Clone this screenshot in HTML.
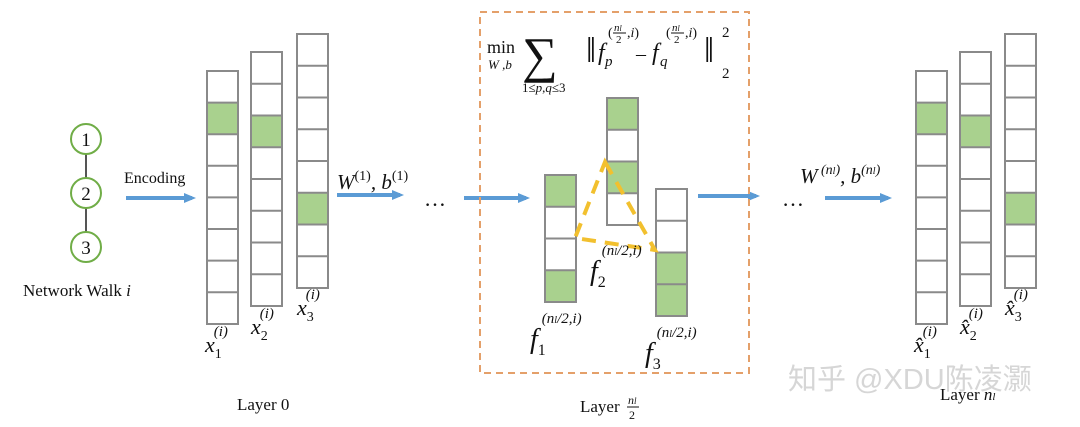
<!DOCTYPE html>
<html><head><meta charset="utf-8"><style>
html,body{margin:0;padding:0;background:#fff;}
svg{display:block;}
text{font-family:"Liberation Serif",serif;fill:#111;}
.it{font-style:italic;}
</style></head><body>
<svg width="1080" height="427" viewBox="0 0 1080 427" xmlns="http://www.w3.org/2000/svg">
<defs>
<marker id="ah" markerWidth="12" markerHeight="12" refX="8" refY="6" orient="auto" markerUnits="userSpaceOnUse">
<path d="M0,1 L12,6 L0,11 Z" fill="#5b9bd5"/></marker>
</defs>
<!-- walk -->
<g stroke="#70ad47" stroke-width="2" fill="#fff">
<line x1="86" y1="154" x2="86" y2="178" stroke="#555"/>
<line x1="86" y1="208" x2="86" y2="232" stroke="#555"/>
<circle cx="86" cy="139" r="15"/><circle cx="86" cy="193" r="15"/><circle cx="86" cy="247" r="15"/>
</g>
<text x="86" y="146" font-size="19" text-anchor="middle">1</text>
<text x="86" y="200" font-size="19" text-anchor="middle">2</text>
<text x="86" y="254" font-size="19" text-anchor="middle">3</text>
<text x="23" y="296" font-size="17">Network Walk <tspan class="it">i</tspan></text>
<text x="124" y="183" font-size="16">Encoding</text>

<g stroke="#5b9bd5" stroke-width="4" marker-end="url(#ah)">
<line x1="126" y1="198" x2="192" y2="198"/>
<line x1="337" y1="195" x2="400" y2="195"/>
<line x1="464" y1="198" x2="526" y2="198"/>
<line x1="698" y1="196" x2="756" y2="196"/>
<line x1="825" y1="198" x2="888" y2="198"/>
</g>
<text x="424" y="206" font-size="22">…</text>
<text x="782" y="206" font-size="22">…</text>

<!-- green fills -->
<g fill="#a9d18e">
<rect x="207" y="102.6" width="31" height="31.6"/>
<rect x="251" y="115.5" width="31" height="31.75"/>
<rect x="297" y="192.75" width="31" height="31.75"/>
<rect x="916" y="102.6" width="31" height="31.6"/>
<rect x="960" y="115.5" width="31" height="31.75"/>
<rect x="1005" y="192.75" width="31" height="31.75"/>
<rect x="545" y="175" width="31" height="31.75"/><rect x="545" y="270.25" width="31" height="31.75"/>
<rect x="607" y="98" width="31" height="31.75"/><rect x="607" y="161.5" width="31" height="31.75"/>
<rect x="656" y="252.5" width="31" height="63.5"/>
</g>
<g stroke="#8a8a8a" stroke-width="2" fill="none">
<rect x="207" y="71" width="31" height="253"/>
<path d="M207 102.6H238M207 134.2H238M207 165.8H238M207 197.4H238M207 229H238M207 260.6H238M207 292.2H238"/>
<rect x="251" y="52" width="31" height="254"/>
<path d="M251 83.75H282M251 115.5H282M251 147.25H282M251 179H282M251 210.75H282M251 242.5H282M251 274.25H282"/>
<rect x="297" y="34" width="31" height="254"/>
<path d="M297 65.75H328M297 97.5H328M297 129.25H328M297 161H328M297 192.75H328M297 224.5H328M297 256.25H328"/>
<rect x="916" y="71" width="31" height="253"/>
<path d="M916 102.6H947M916 134.2H947M916 165.8H947M916 197.4H947M916 229H947M916 260.6H947M916 292.2H947"/>
<rect x="960" y="52" width="31" height="254"/>
<path d="M960 83.75H991M960 115.5H991M960 147.25H991M960 179H991M960 210.75H991M960 242.5H991M960 274.25H991"/>
<rect x="1005" y="34" width="31" height="254"/>
<path d="M1005 65.75H1036M1005 97.5H1036M1005 129.25H1036M1005 161H1036M1005 192.75H1036M1005 224.5H1036M1005 256.25H1036"/>
<rect x="545" y="175" width="31" height="127"/>
<path d="M545 206.75H576M545 238.5H576M545 270.25H576"/>
<rect x="607" y="98" width="31" height="127"/>
<path d="M607 129.75H638M607 161.5H638M607 193.25H638"/>
<rect x="656" y="189" width="31" height="127"/>
<path d="M656 220.75H687M656 252.5H687M656 284.25H687"/>
</g>
<!-- dashed box -->
<rect x="480" y="12" width="269" height="361" fill="none" stroke="#e4a06a" stroke-width="2" stroke-dasharray="7,5"/>
<polygon points="605,162 655,250 575,238" fill="none" stroke="#f2c02e" stroke-width="4" stroke-dasharray="14,9"/>

<!-- formula -->
<text x="487" y="53" font-size="18">min</text>
<text x="488" y="69" font-size="13" class="it">W ,b</text>
<text x="522" y="72" font-size="50">∑</text>
<text x="522" y="92" font-size="13">1≤<tspan class="it">p</tspan>,<tspan class="it">q</tspan>≤3</text>
<text x="586" y="62" font-size="36">‖</text>
<text x="598" y="60" font-size="24" class="it">f</text>
<text x="605" y="66" font-size="15" class="it">p</text>
<text x="608" y="37" font-size="14">(</text>
<text x="614" y="31" font-size="11" class="it">n<tspan font-size="8">l</tspan></text>
<line x1="613" y1="33" x2="626" y2="33" stroke="#111"/>
<text x="616" y="43" font-size="11">2</text>
<text x="627" y="37" font-size="14">,<tspan class="it">i</tspan>)</text>
<text x="636" y="60" font-size="20">–</text>
<text x="652" y="60" font-size="24" class="it">f</text>
<text x="660" y="66" font-size="15" class="it">q</text>
<text x="666" y="37" font-size="14">(</text>
<text x="672" y="31" font-size="11" class="it">n<tspan font-size="8">l</tspan></text>
<line x1="671" y1="33" x2="684" y2="33" stroke="#111"/>
<text x="674" y="43" font-size="11">2</text>
<text x="685" y="37" font-size="14">,<tspan class="it">i</tspan>)</text>
<text x="704" y="62" font-size="36">‖</text>
<text x="722" y="37" font-size="15">2</text>
<text x="722" y="78" font-size="15">2</text>

<!-- labels -->
<text x="337" y="189" font-size="21" class="it">W<tspan font-style="normal" font-size="14" dy="-9">(1)</tspan><tspan dy="9">, b</tspan><tspan font-style="normal" font-size="14" dy="-9">(1)</tspan></text>
<text x="800" y="183" font-size="21" class="it">W<tspan font-size="14" dy="-9"> (n</tspan><tspan font-size="10">l</tspan><tspan font-size="14">)</tspan><tspan dy="9">, b</tspan><tspan font-size="14" dy="-9">(n</tspan><tspan font-size="10">l</tspan><tspan font-size="14">)</tspan></text>

<g font-size="22" class="it">
<text x="205" y="352" class="it">x<tspan font-size="14" font-style="normal" dy="6">1</tspan><tspan font-size="15" dx="-8" dy="-22">(i)</tspan></text>
<text x="251" y="334" class="it">x<tspan font-size="14" font-style="normal" dy="6">2</tspan><tspan font-size="15" dx="-8" dy="-22">(i)</tspan></text>
<text x="297" y="315" class="it">x<tspan font-size="14" font-style="normal" dy="6">3</tspan><tspan font-size="15" dx="-8" dy="-22">(i)</tspan></text>
<text x="914" y="352" class="it">x̂<tspan font-size="14" font-style="normal" dy="6">1</tspan><tspan font-size="15" dx="-8" dy="-22">(i)</tspan></text>
<text x="960" y="334" class="it">x̂<tspan font-size="14" font-style="normal" dy="6">2</tspan><tspan font-size="15" dx="-8" dy="-22">(i)</tspan></text>
<text x="1005" y="315" class="it">x̂<tspan font-size="14" font-style="normal" dy="6">3</tspan><tspan font-size="15" dx="-8" dy="-22">(i)</tspan></text>
</g>
<text x="530" y="348" font-size="28" class="it">f<tspan font-size="16" font-style="normal" dy="7">1</tspan><tspan font-size="15" dx="-4" dy="-32">(<tspan class="it">n</tspan><tspan class="it" font-size="10">l</tspan>/2,<tspan class="it">i</tspan>)</tspan></text>
<text x="590" y="280" font-size="28" class="it">f<tspan font-size="16" font-style="normal" dy="7">2</tspan><tspan font-size="15" dx="-4" dy="-32">(<tspan class="it">n</tspan><tspan class="it" font-size="10">l</tspan>/2,<tspan class="it">i</tspan>)</tspan></text>
<text x="645" y="362" font-size="28" class="it">f<tspan font-size="16" font-style="normal" dy="7">3</tspan><tspan font-size="15" dx="-4" dy="-32">(<tspan class="it">n</tspan><tspan class="it" font-size="10">l</tspan>/2,<tspan class="it">i</tspan>)</tspan></text>

<text x="237" y="410" font-size="17">Layer 0</text>
<text x="580" y="412" font-size="17">Layer</text>
<text x="628" y="404" font-size="12" class="it">n<tspan font-size="9">l</tspan></text>
<line x1="627" y1="407" x2="639" y2="407" stroke="#111" stroke-width="1"/>
<text x="629" y="419" font-size="12">2</text>
<text x="940" y="400" font-size="17">Layer <tspan class="it">n<tspan font-size="11">l</tspan></tspan></text>
<text x="788" y="389" font-size="29" style="font-family:'Liberation Sans','Noto Sans CJK SC',sans-serif;fill:#d2d2d2;" fill-opacity="0.9">知乎 @XDU陈凌灏</text>
</svg>
</body></html>
